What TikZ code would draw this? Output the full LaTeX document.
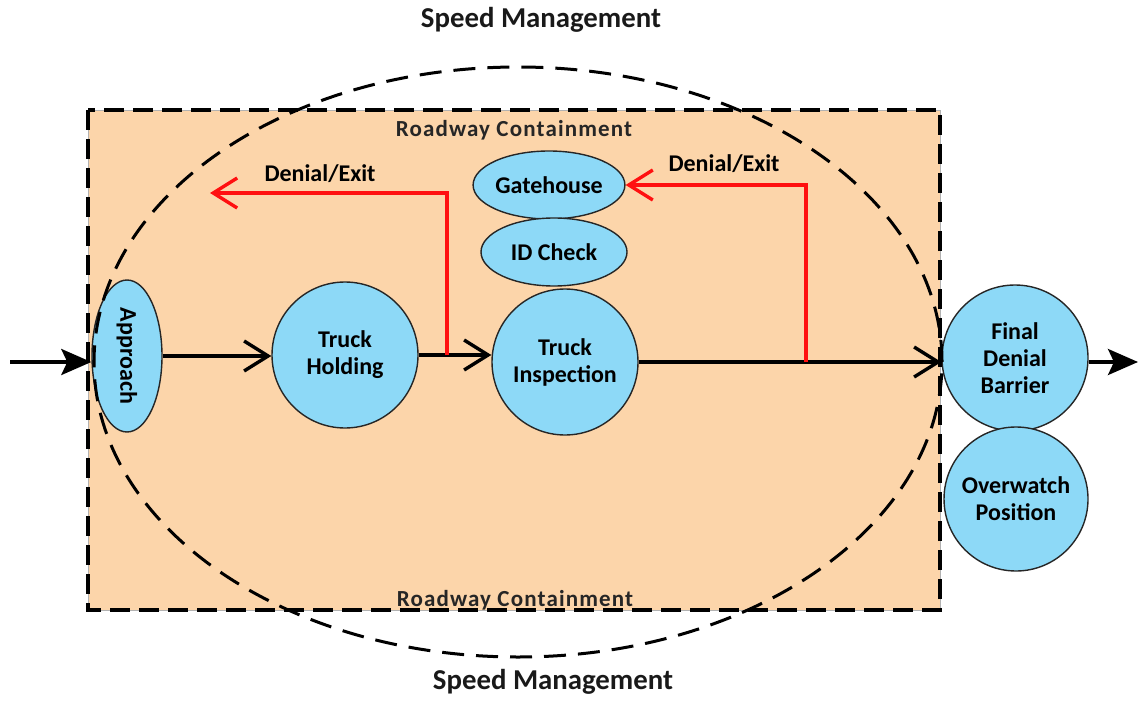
\documentclass[tikz,border=0pt]{standalone}
\usepackage{fontspec}
\setmainfont{Carlito}
\usetikzlibrary{shapes.geometric,arrows.meta}
\definecolor{peach}{HTML}{FCD5AA}
\definecolor{skyfill}{HTML}{8DD9F7}
\definecolor{exitred}{HTML}{FF1010}
\begin{document}
\begin{tikzpicture}[x=0.5pt,y=-0.5pt,
  txt/.style={font=\bfseries\fontsize{12}{13.5}\selectfont},
  stage/.style={circle,draw=black!85,line width=0.7pt,fill=skyfill,
    minimum size=73pt,inner sep=0pt,align=center,txt},
  oval/.style={ellipse,draw=black!85,line width=0.7pt,fill=skyfill,
    inner sep=0pt,align=center,txt},
  flow/.style={line width=1.7pt,
    -{Straight Barb[length=12pt,width=15pt,line width=1.7pt]}},
  exitflow/.style={flow,draw=exitred},
  inout/.style={line width=1.7pt,-{Stealth[length=15pt,width=13pt,inset=3pt]}},
  zonelbl/.style={font=\bfseries\fontsize{11.5}{13}\selectfont\addfontfeatures{LetterSpace=5},text=black!85},
  speedlbl/.style={font=\bfseries\fontsize{14.4}{16}\selectfont,text=black!90},
]
\useasboundingbox (0,0) rectangle (1138,700);

% containment area fill
\fill[peach,draw=black!30,line width=0.4pt] (88,110) rectangle (940,610);

% stations
\node[oval,minimum width=35pt,minimum height=76pt] (app) at (127,356)
  {\rotatebox{-90}{Approach}};
\node[stage] (hold) at (345,355) {Truck\\Holding};
\node[stage] (insp) at (565,362) {Truck\\Inspection};
\node[oval,minimum width=72pt,minimum height=34pt] (gate) at (549,185) {Gatehouse};
\node[oval,minimum width=73pt,minimum height=34pt] (idc) at (554,252) {ID Check};
\node[stage] (fdb) at (1015,358) {Final\\Denial\\Barrier};
\node[stage,minimum size=72pt] (ow) at (1016,499) {Overwatch\\Position};

% zone outlines
\draw[line width=2pt,dash pattern=on 10pt off 4.5pt] (88,110) rectangle (940,610);
\draw[line width=1.5pt,dash pattern=on 11pt off 6pt] (518,362) ellipse [x radius=212pt,y radius=147.5pt];

% labels
\node[speedlbl] (sm1) at (541,20) {Speed Management};
\node[speedlbl] (sm2) at (553,682) {Speed Management};
\node[zonelbl] (rc1) at (514,130) {Roadway Containment};
\node[zonelbl] (rc2) at (515,600) {Roadway Containment};

% main flow
\coordinate (entry) at (10,362);
\coordinate (leave) at (1138,362);
\draw[inout] (entry) -- (entry -| app.west);
\draw[flow] (app.east) -- (app.east -| hold.west);
\draw[flow] (hold.east) -- (hold.east -| insp.west);
\draw[flow] (insp.east) -- (insp.east -| fdb.west);
\draw[inout] (fdb.east |- leave) -- (leave);

% denial / exit branches
\coordinate (j1) at (447,355);
\coordinate (x1) at (210,193);
\draw[exitflow,line join=miter] (j1) |- (x1);
\node[txt] (dx1) at (320,174) {Denial/Exit};
\coordinate (j2) at (806,362);
\draw[exitflow,line join=miter] (j2) |- (gate.east);
\node[txt] (dx2) at (724,164) {Denial/Exit};
\end{tikzpicture}
\end{document}
